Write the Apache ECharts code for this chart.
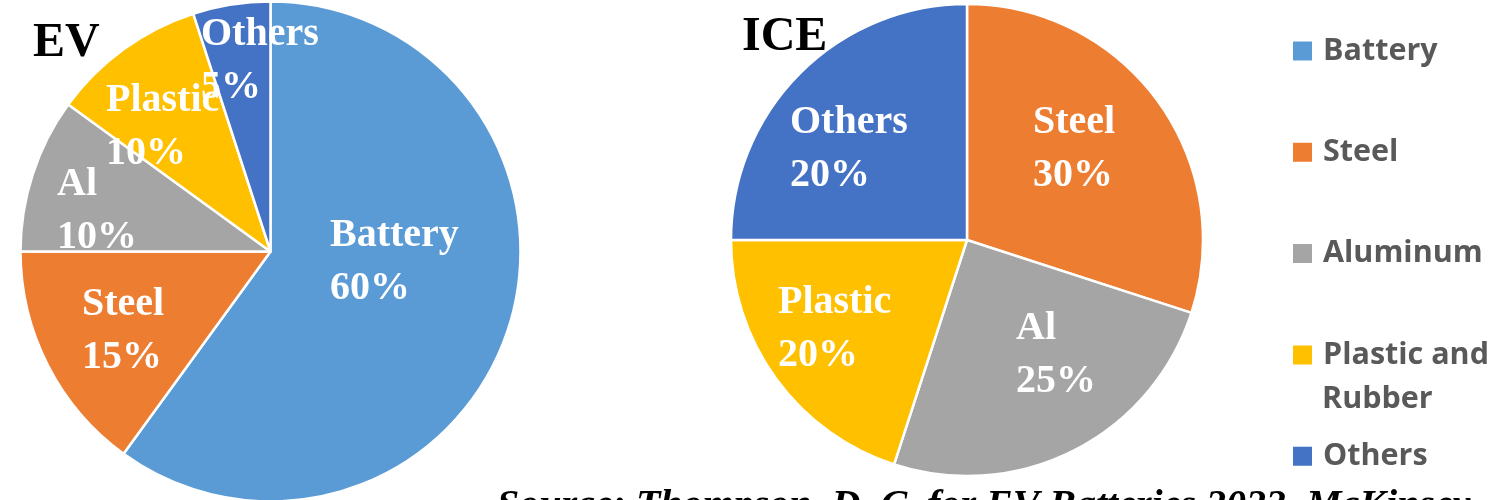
<!DOCTYPE html>
<html><head><meta charset="utf-8">
<script src="https://cdn.jsdelivr.net/npm/echarts@6/dist/echarts.min.js"></script>
<style>html,body{margin:0;padding:0;background:#fff}#c{width:1494px;height:500px}</style>
</head><body><div id="c"></div>
<script>
// ---- data ----
const categories = ['Battery', 'Steel', 'Aluminum', 'Plastic and Rubber', 'Others'];
const categoryColors = ['#5B9BD5', '#ED7D31', '#A5A5A5', '#FFC000', '#4472C4'];
const evNames = ['Battery', 'Steel', 'Aluminum', 'Plastic and Rubber', 'Others'];
const evValues = [60, 15, 10, 10, 5];
const evLabelNames = ['Battery', 'Steel', 'Al', 'Plastic', 'Others'];
const evLabelPct = ['60%', '15%', '10%', '10%', '5%'];
const iceNames = ['Steel', 'Aluminum', 'Plastic and Rubber', 'Others'];
const iceValues = [30, 25, 20, 25];
const iceLabelNames = ['Steel', 'Al', 'Plastic', 'Others'];
const iceLabelPct = ['30%', '25%', '20%', '20%'];
const chartTitles = ['EV', 'ICE'];
const sourceText = 'Source: Thompson, D. C. for EV Batteries 2023, McKinsey';

// ---- layout ----
const evLabelPos = [[330, 262.5], [82, 331.5], [57, 211], [106, 127], [201, 61.5]];
const iceLabelPos = [[1033, 149.5], [1016, 355], [778, 329], [790, 149]];
const colorOf = n => categoryColors[categories.indexOf(n)];

function buildData(names, values, lblNames, lblPct) {
  return names.map((n, i) => ({
    name: n, value: values[i],
    itemStyle: { color: colorOf(n) },
    label: { formatter: lblNames[i] + '\n' + lblPct[i] }
  }));
}
const labelStyle = {
  show: true, position: 'inside', color: '#fff',
  fontFamily: 'Liberation Serif', fontWeight: 'bold', fontSize: 40, lineHeight: 53, align: 'left'
};
const legendFont = { fontFamily: 'Open Sans', fontWeight: 'bold', fontSize: 30.5 };

const chart = echarts.init(document.getElementById('c'), null, { renderer: 'canvas' });
chart.setOption({
  animation: false,
  legend: {
    orient: 'vertical', left: 1286, top: 24, itemWidth: 21, itemHeight: 21, itemGap: 57.3,
    icon: 'rect', selectedMode: false,
    data: categories,
    formatter: n => n === 'Plastic and Rubber' ? 'Plastic and' : n,
    textStyle: Object.assign({ lineHeight: 44, padding: [0, 0, 0, 5], color: '#595959' }, legendFont)
  },
  graphic: [
    { type: 'text', x: 1322, y: 399, style: Object.assign({ text: 'Rubber', fill: '#595959', verticalAlign: 'middle' }, legendFont) },
    { type: 'text', x: 33, y: 43.5, style: { text: chartTitles[0], fontFamily: 'Liberation Serif', fontWeight: 'bold', fontSize: 48, fill: '#000', verticalAlign: 'middle' } },
    { type: 'text', x: 742, y: 37.5, style: { text: chartTitles[1], fontFamily: 'Liberation Serif', fontWeight: 'bold', fontSize: 48, fill: '#000', verticalAlign: 'middle' } },
    { type: 'text', x: 497, y: 507, style: { text: sourceText, fontFamily: 'Liberation Serif', fontWeight: 'bold', fontStyle: 'italic', fontSize: 40, fill: '#000', verticalAlign: 'middle' } }
  ],
  series: [
    {
      type: 'pie', center: [270.5, 251.5], radius: 250, startAngle: 90, clockwise: true,
      avoidLabelOverlap: false, labelLine: { show: false },
      itemStyle: { borderColor: '#fff', borderWidth: 2.5 },
      label: labelStyle, emphasis: { disabled: true },
      labelLayout: p => ({ x: evLabelPos[p.dataIndex][0], y: evLabelPos[p.dataIndex][1], align: 'left', verticalAlign: 'middle' }),
      data: buildData(evNames, evValues, evLabelNames, evLabelPct)
    },
    {
      type: 'pie', center: [967, 240], radius: 236, startAngle: 90, clockwise: true,
      avoidLabelOverlap: false, labelLine: { show: false },
      itemStyle: { borderColor: '#fff', borderWidth: 2.5 },
      label: labelStyle, emphasis: { disabled: true },
      labelLayout: p => ({ x: iceLabelPos[p.dataIndex][0], y: iceLabelPos[p.dataIndex][1], align: 'left', verticalAlign: 'middle' }),
      data: buildData(iceNames, iceValues, iceLabelNames, iceLabelPct)
    }
  ]
});
</script></body></html>
